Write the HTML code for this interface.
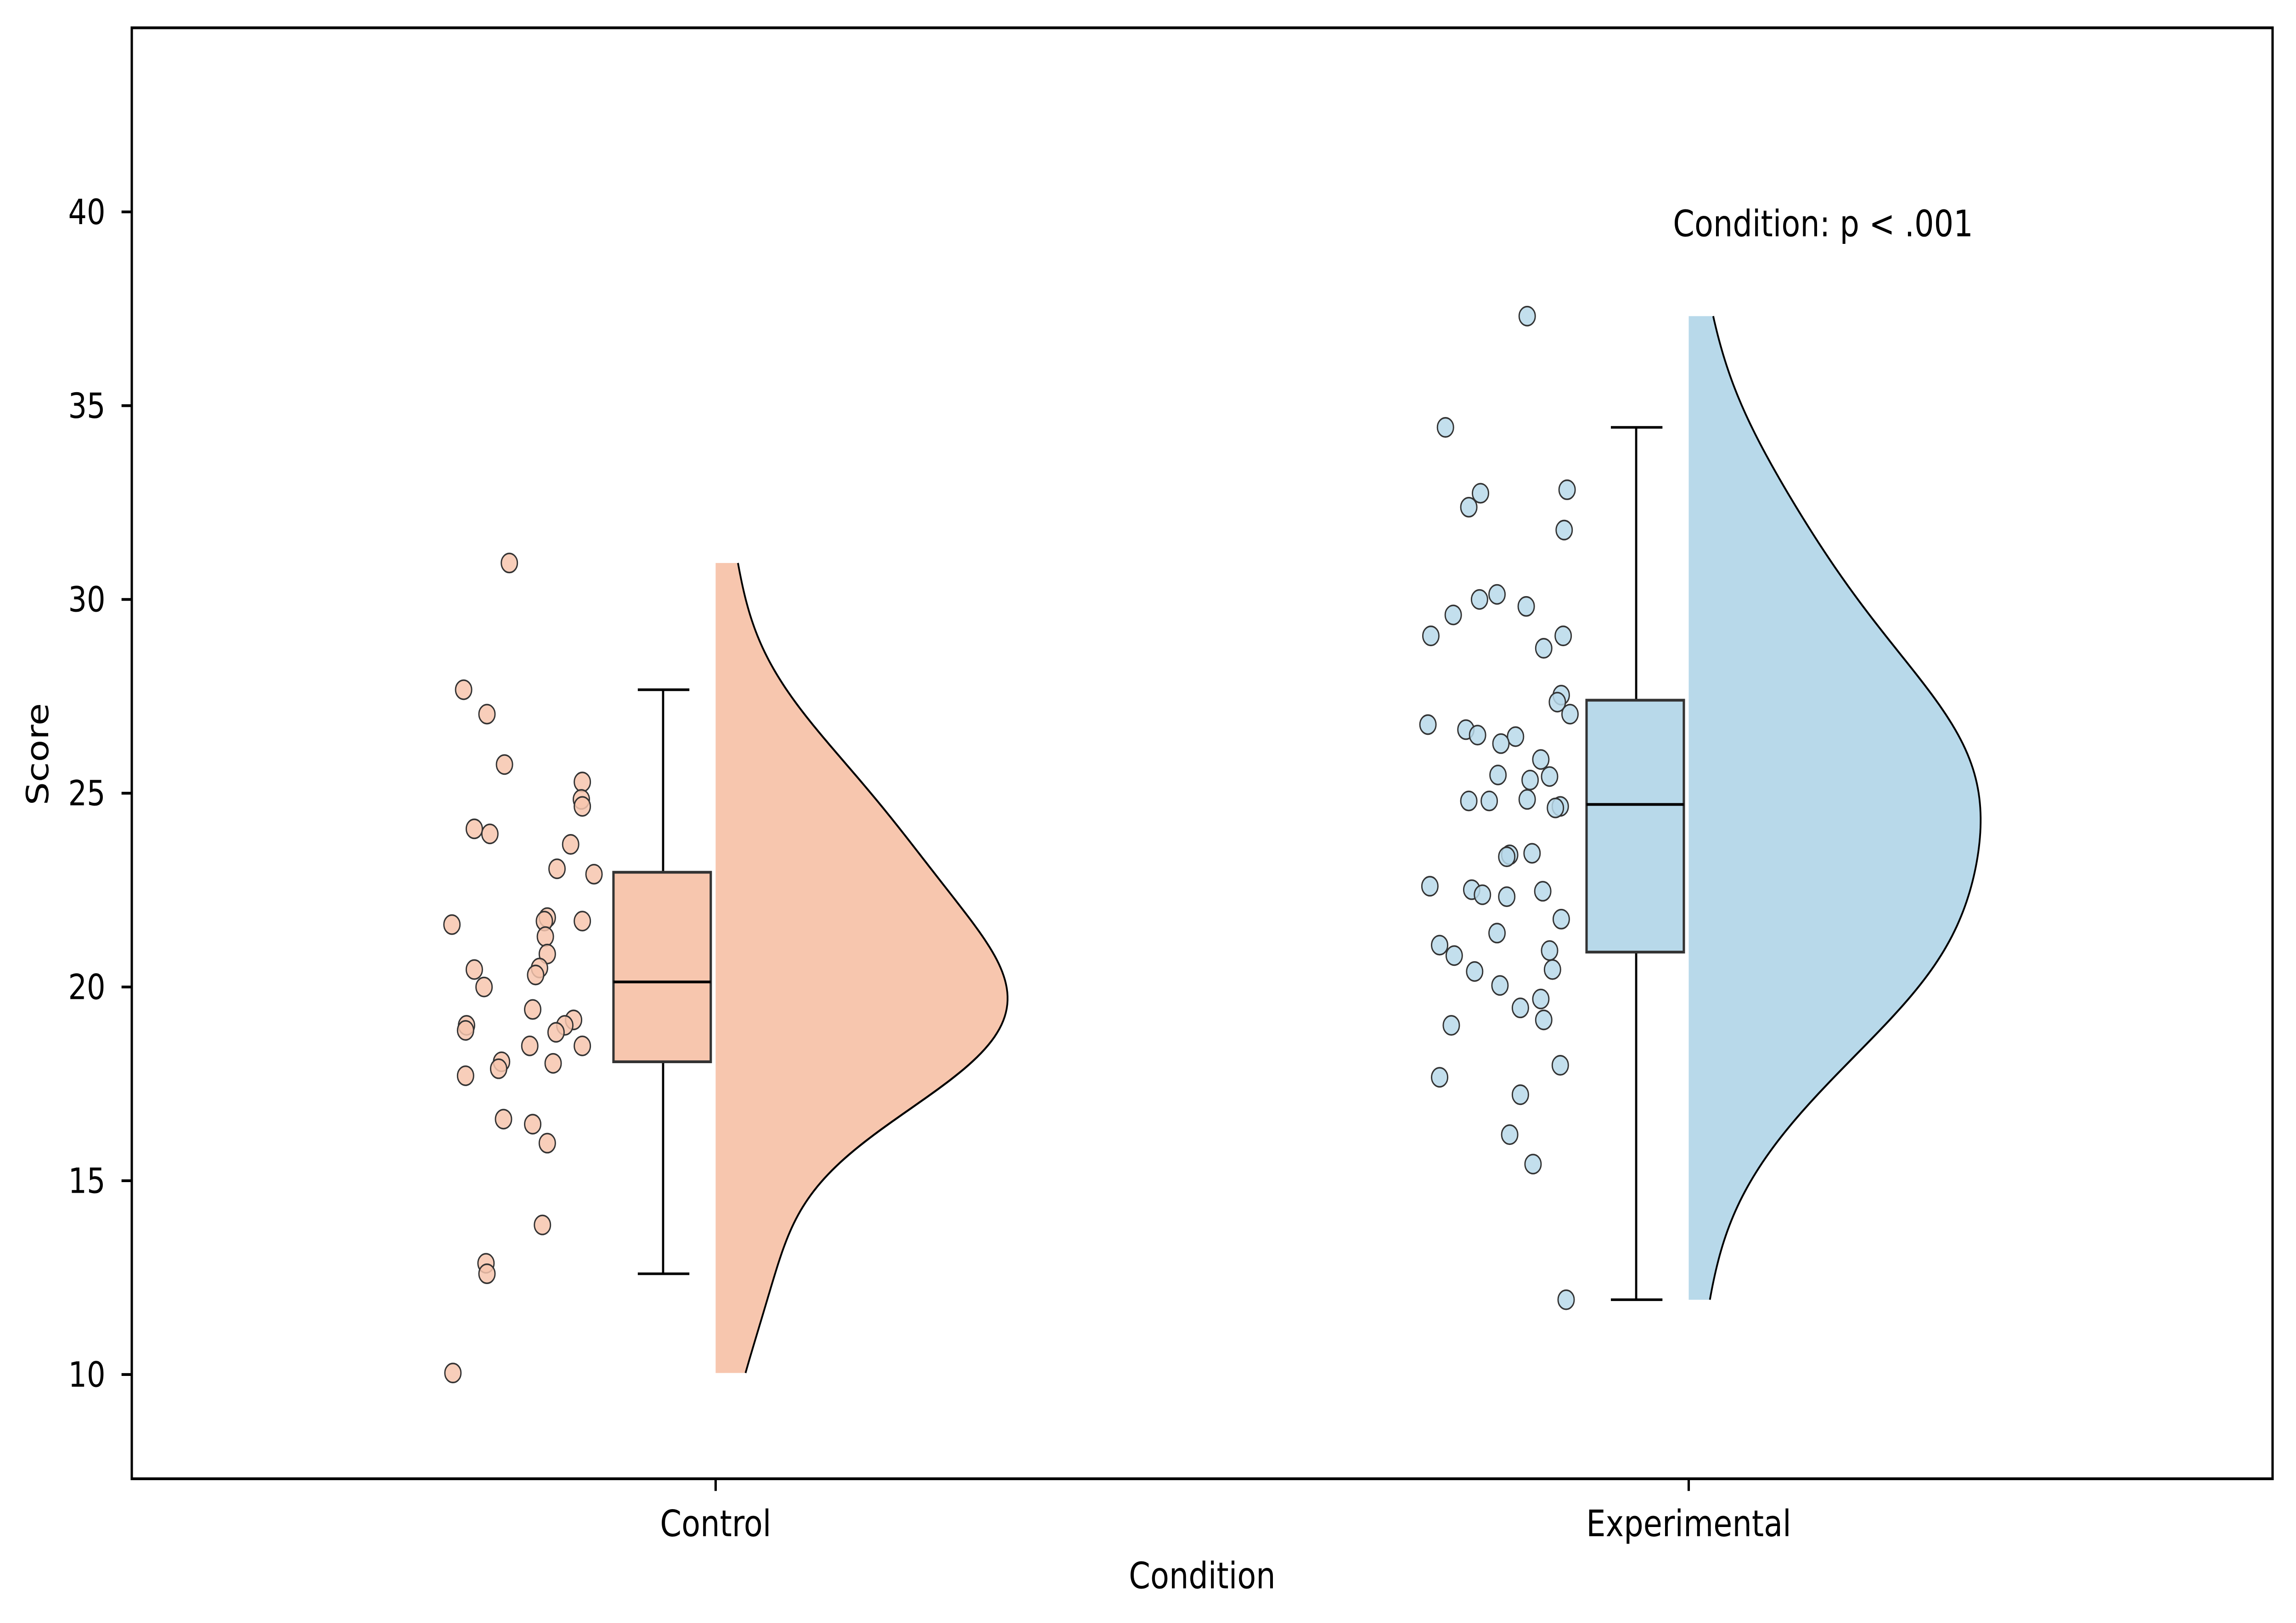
<!DOCTYPE html>
<html><head><meta charset="utf-8"><style>
html,body{margin:0;padding:0;background:#fff;width:100%;height:100%;overflow:hidden;}
svg{display:block;font-family:"DejaVu Sans","Liberation Sans",sans-serif;width:100vw;height:100vh;}
</style></head><body>
<svg id="chart" viewBox="0 0 1568 934" preserveAspectRatio="none" xmlns="http://www.w3.org/2000/svg">
<rect x="0" y="0" width="1568" height="934" fill="#fff"/>
<g id="plot"></g>
<rect x="90" y="16" width="1462" height="835" fill="none" stroke="#000" stroke-width="1.6"/>
<g id="axes"></g>
<text x="821" y="914" font-size="21" text-anchor="middle">Condition</text>
<text transform="translate(33,434) rotate(-90)" font-size="21" text-anchor="middle">Score</text>
<text x="1245" y="136" font-size="21" text-anchor="middle">Condition: p &lt; .001</text>
</svg>
<script>
const categories = ["Control", "Experimental"];
const colors = ["#f7c6ae", "#b8d9ea"];
const yTicks = [10, 15, 20, 25, 30, 35, 40];
const controlValues = [30.94,27.67,27.04,25.74,24.08,23.95,25.29,24.84,24.66,23.68,23.05,22.91,21.79,21.70,21.70,21.30,21.61,20.85,20.49,20.31,20.45,20.00,19.42,19.15,19.01,19.01,18.88,18.83,18.48,18.48,18.07,18.03,17.89,17.71,16.59,16.46,15.97,13.86,12.87,12.60,10.04];
const controlJitter = [-0.212,-0.259,-0.235,-0.217,-0.248,-0.232,-0.137,-0.138,-0.137,-0.149,-0.163,-0.125,-0.173,-0.176,-0.137,-0.175,-0.271,-0.173,-0.181,-0.185,-0.248,-0.238,-0.188,-0.146,-0.155,-0.256,-0.257,-0.164,-0.191,-0.137,-0.220,-0.167,-0.223,-0.257,-0.218,-0.188,-0.173,-0.178,-0.236,-0.235,-0.270];
const expValues = [37.31,34.44,32.74,32.83,32.38,31.79,30.13,29.60,30.00,29.82,29.06,29.06,28.74,27.53,27.35,27.04,26.77,26.64,26.50,26.46,26.28,25.87,25.47,25.34,25.43,24.80,24.80,24.84,24.66,24.62,23.41,23.36,23.45,22.60,22.51,22.38,22.33,22.47,21.75,21.39,21.08,20.94,20.81,20.45,20.40,20.04,19.69,19.46,19.15,19.01,17.98,17.67,17.22,16.19,15.43,11.93];
const expJitter = [-0.166,-0.250,-0.214,-0.125,-0.226,-0.128,-0.197,-0.242,-0.215,-0.167,-0.265,-0.129,-0.149,-0.131,-0.135,-0.122,-0.268,-0.229,-0.217,-0.178,-0.193,-0.152,-0.196,-0.163,-0.143,-0.226,-0.205,-0.166,-0.132,-0.137,-0.184,-0.187,-0.161,-0.266,-0.223,-0.212,-0.187,-0.150,-0.131,-0.197,-0.256,-0.143,-0.241,-0.140,-0.220,-0.194,-0.152,-0.173,-0.149,-0.244,-0.132,-0.256,-0.173,-0.184,-0.160,-0.126];
const q1 = [18.07, 20.90];
const medians = [20.13, 24.71];
const q3 = [22.96, 27.40];
const whiskLo = [12.60, 11.93];
const whiskHi = [27.67, 34.44];

const NS = "http://www.w3.org/2000/svg";
const X0 = 90, X1 = 1552, Y0 = 851, Y1 = 16;
const xMin = -0.6, xMax = 1.6, yMin = 7.31, yMax = 44.75;
const xs = v => X0 + (v - xMin) / (xMax - xMin) * (X1 - X0);
const ys = v => Y0 - (v - yMin) / (yMax - yMin) * (Y0 - Y1);
const plot = document.getElementById("plot");
const axes = document.getElementById("axes");
function mk(tag, attrs, parent) {
  const e = document.createElementNS(NS, tag);
  for (const k in attrs) e.setAttribute(k, attrs[k]);
  parent.appendChild(e);
  return e;
}
const values = [controlValues, expValues];
const jitters = [controlJitter, expJitter];

values.forEach((vals, i) => {
  const g = mk("g", {}, plot);
  
  
  const n = vals.length;
  const mean = vals.reduce((a, b) => a + b, 0) / n;
  const sd = Math.sqrt(vals.reduce((a, b) => a + (b - mean) ** 2, 0) / (n - 1));
  const bw = sd * Math.pow(n, -0.2);
  const lo = Math.min(...vals), hi = Math.max(...vals);
  const pts = [];
  let maxD = 0;
  for (let k = 0; k <= 200; k++) {
    const y = lo + (hi - lo) * k / 200;
    let d = 0;
    vals.forEach(v => { d += Math.exp(-0.5 * ((y - v) / bw) ** 2); });
    pts.push([y, d]);
    if (d > maxD) maxD = d;
  }
  const curve = pts.map(p => [xs(i + 0.3 * p[1] / maxD), ys(p[0])]);
  let dFill = "M" + xs(i) + "," + ys(lo) + " " + curve.map(c => "L" + c[0].toFixed(2) + "," + c[1].toFixed(2)).join(" ") + " L" + xs(i) + "," + ys(hi) + "Z";
  const vf = mk("path", {d: dFill, fill: colors[i], stroke: "none"}, g);
  
  
  const vl = mk("path", {d: "M" + curve.map(c => c[0].toFixed(2) + "," + c[1].toFixed(2)).join(" L"), fill: "none", stroke: "#000", "stroke-width": 1.2}, g);
  
  
  const bl = xs(i - 0.105), br = xs(i - 0.005), bc = xs(i - 0.054);
  const wl = mk("line", {x1: bc, x2: bc, y1: ys(whiskHi[i]), y2: ys(q3[i]), stroke: "#000", "stroke-width": 1.5}, g);
  
  
  const wl2 = mk("line", {x1: bc, x2: bc, y1: ys(q1[i]), y2: ys(whiskLo[i]), stroke: "#000", "stroke-width": 1.5}, g);
  
  
  [whiskHi[i], whiskLo[i]].forEach(w => {
    const c = mk("line", {x1: xs(i - 0.08), x2: xs(i - 0.027), y1: ys(w), y2: ys(w), stroke: "#000", "stroke-width": 1.5}, g);
    
    
  });
  const box = mk("rect", {x: bl, y: ys(q3[i]), width: br - bl, height: ys(q1[i]) - ys(q3[i]), fill: colors[i], stroke: "#333", "stroke-width": 1.6}, g);
  
  
  const med = mk("line", {x1: bl, x2: br, y1: ys(medians[i]), y2: ys(medians[i]), stroke: "#000", "stroke-width": 1.6}, g);
  
  
  vals.forEach((v, j) => {
    const c = mk("circle", {cx: xs(i + jitters[i][j]), cy: ys(v), r: 5.5, fill: colors[i], "fill-opacity": 0.85, stroke: "#333", "stroke-width": 0.9}, g);
    
    
  });
});

yTicks.forEach(t => {
  const l = mk("line", {x1: X0 - 7, x2: X0, y1: ys(t), y2: ys(t), stroke: "#000", "stroke-width": 1.6}, axes);
  
  
  const tx = mk("text", {x: 72, y: ys(t) + 7, "font-size": 20, "text-anchor": "end"}, axes);
  tx.textContent = t;
  
  
});
categories.forEach((c, i) => {
  const l = mk("line", {x1: xs(i), x2: xs(i), y1: Y0, y2: Y0 + 7, stroke: "#000", "stroke-width": 1.6}, axes);
  
  
  const tx = mk("text", {x: xs(i), y: 884, "font-size": 21, "text-anchor": "middle"}, axes);
  tx.textContent = c;
  
  
});
</script>
</body></html>
